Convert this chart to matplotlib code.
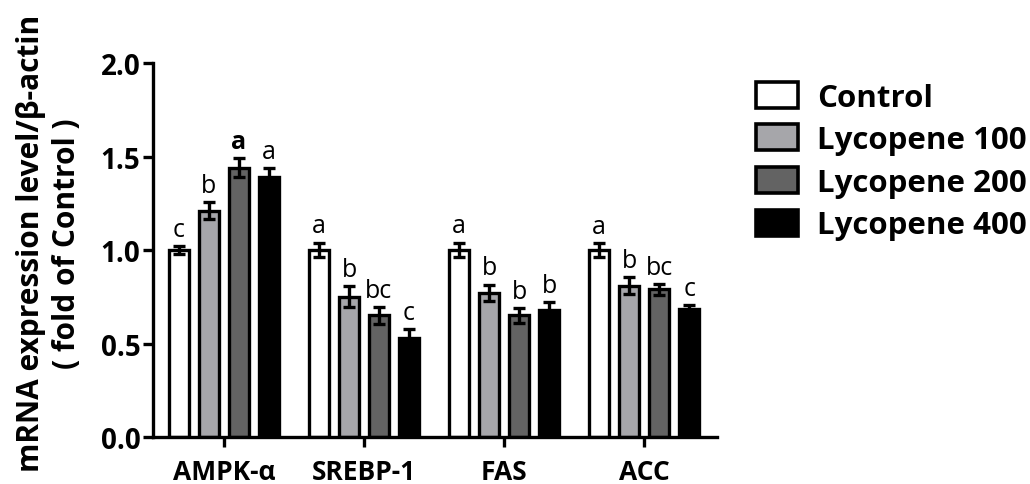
import matplotlib
matplotlib.use('Agg')
import matplotlib.pyplot as plt
import numpy as np

plt.rcParams['font.family'] = ['Open Sans', 'DejaVu Sans']

# data
genes = ['AMPK-\u03b1', 'SREBP-1', 'FAS', 'ACC']
groups = ['Control', 'Lycopene 100', 'Lycopene 200', 'Lycopene 400']
control = [1.00, 1.00, 1.00, 1.00]
lyc100 = [1.21, 0.75, 0.77, 0.81]
lyc200 = [1.44, 0.65, 0.65, 0.79]
lyc400 = [1.39, 0.53, 0.68, 0.685]
err_control = [0.02, 0.04, 0.04, 0.035]
err_lyc100 = [0.045, 0.055, 0.045, 0.045]
err_lyc200 = [0.05, 0.045, 0.04, 0.03]
err_lyc400 = [0.05, 0.045, 0.04, 0.02]
letters_control = ['c', 'a', 'a', 'a']
letters_lyc100 = ['b', 'b', 'b', 'b']
letters_lyc200 = ['a', 'bc', 'b', 'bc']
letters_lyc400 = ['a', 'c', 'b', 'c']

values = [control, lyc100, lyc200, lyc400]
errors = [err_control, err_lyc100, err_lyc200, err_lyc400]
letters = [letters_control, letters_lyc100, letters_lyc200, letters_lyc400]
colors = ['white', '#a6a6aa', '#636363', 'black']

fig = plt.figure(figsize=(10.3, 4.85), dpi=100)
ax = fig.add_axes([0.1485, 0.0969, 0.5475, 0.7711])

x = np.arange(len(genes))
offsets = [-0.322, -0.107, 0.107, 0.322]
width = 0.145
lw = 2.4

for i in range(4):
    ax.bar(x + offsets[i], values[i], width, color=colors[i], edgecolor='black',
           linewidth=lw, label=groups[i], zorder=2)
    ax.errorbar(x + offsets[i], values[i], yerr=errors[i], fmt='none',
                ecolor='black', elinewidth=2.4, capsize=4, capthick=2.4, zorder=3)
    for j in range(len(genes)):
        bold = (i == 2 and j == 0)
        ax.annotate(letters[i][j], (x[j] + offsets[i], values[i][j] + errors[i][j]),
                    xytext=(0, 3), textcoords='offset points', ha='center', va='bottom',
                    fontsize=18, fontweight='bold' if bold else 'normal')

ax.set_xlim(-0.507, 3.52)
ax.set_ylim(0, 2.0)
ax.set_yticks([0, 0.5, 1.0, 1.5, 2.0])
ax.set_yticklabels(['0.0', '0.5', '1.0', '1.5', '2.0'])
ax.set_xticks(x)
ax.set_xticklabels(genes)
for s in ['top', 'right']:
    ax.spines[s].set_visible(False)
for s in ['left', 'bottom']:
    ax.spines[s].set_linewidth(2.4)
ax.tick_params(axis='both', width=2.4, length=7, labelsize=20)
ax.tick_params(axis='x', labelsize=19, pad=8)
ax.tick_params(axis='y', pad=2)
for t in ax.get_xticklabels() + ax.get_yticklabels():
    t.set_fontweight('bold')

ax.set_ylabel('mRNA expression level/\u03b2-actin\n( fold of Control )',
              fontsize=21.5, fontweight='bold', linespacing=1.25)
ax.yaxis.set_label_coords(-0.126, 0.52)

leg = ax.legend(loc='upper left', bbox_to_anchor=(1.02, 1.025), frameon=False,
                prop={'weight': 'bold', 'size': 22.5},
                handlelength=1.35, handleheight=0.9, labelspacing=0.38, handletextpad=0.6)
for p in leg.get_patches():
    p.set_linewidth(2.6)

fig.savefig('out.png', dpi=100)
